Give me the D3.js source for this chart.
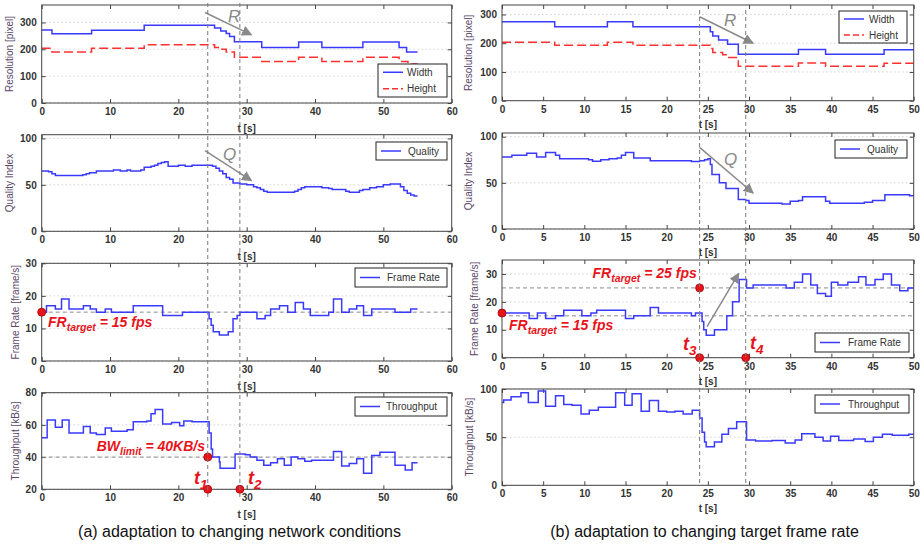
<!DOCTYPE html>
<html><head><meta charset="utf-8">
<script src="https://cdn.jsdelivr.net/npm/d3@7"></script>
<style>
body{margin:0;background:#fff}
svg{display:block}
text{font-family:"Liberation Sans",Arial,Helvetica,sans-serif}
</style>
</head><body>
<svg id="c" width="924" height="545"></svg>
<script>
// ---------------- data ----------------
const leftXTicks = [0,10,20,30,40,50,60];
const rightXTicks = [0,5,10,15,20,25,30,35,40,45,50];
const resTicks = [0,100,200,300];
const qualTicks = [0,50,100];
const frTicks = [0,10,20,30];
const tpLeftTicks = [20,40,60,80];
const tpRightTicks = [0,50,100];

const leftEvents = [24.3, 29.0];   // t1, t2
const rightEvents = [24.0, 29.6];  // t3, t4

const aWidth = [[0,272],[1.5,258],[7.3,271],[15,290],[25.3,279],[26.2,268],[27,259],[27.5,248],[28.2,228],[32.2,207],[37.6,227],[41,207],[47,227],[52.3,207],[53.4,190],[55,190]];
const aHeight = [[0,204],[1.5,190],[7.3,204],[15,217],[25.3,207],[26.2,200],[27,190],[28.2,170],[32.2,155],[37.6,170],[41,155],[47,170],[52.3,155],[53.6,145],[55,145]];
const aQuality = [[0,65],[1,64],[1.5,62],[2,60],[6,61],[6.5,62],[7,63],[8,65],[10.5,66],[11.5,65],[12.5,66],[13,65],[14.5,66],[15,69],[16,70],[16.5,71],[17,73],[17.5,74],[18,75],[18.5,70],[19.5,70],[20,71],[21,70],[22,71],[24.5,71],[25,70],[25.5,68],[26,65],[26.5,62],[27,58],[27.5,56],[28,52],[29,51],[30,50],[31,48],[31.5,47],[32,45],[32.5,43],[33,42],[36,42],[37,43],[37.5,45],[38,47],[38.5,48],[40,48],[41,47],[42,46],[42.5,45],[44,45],[44.5,43],[45,42],[46,42],[46.5,44],[47,45],[48,47],[49,48],[50,50],[51,51],[52,51],[52.5,48],[53,44],[53.5,41],[54,39],[54.5,38],[55,38]];
const aFrameRate = [[0,15],[0.7,17],[2,16],[2.9,19],[4,16],[6.1,17],[7.1,16],[8,15],[9.3,16],[10.2,15],[13.4,17],[17.7,14],[20.6,15],[24.5,13],[24.8,11],[25.1,9],[26,8],[27.3,9],[28,13],[28.6,14],[29,15],[31.5,13],[32.7,14],[33.5,16],[34.8,17],[36,15],[37.1,18],[38.3,16],[39.3,14],[42,15],[42.7,19],[43.9,15],[45,16],[46.1,17],[47.1,14],[48.3,16],[51.7,15],[54,16],[55,16]];
const aThroughput = [[0,52],[0.8,63],[2,58.5],[3,63],[4,55],[6.1,59],[7.1,55],[8,54],[9.3,58],[10.2,56],[12.5,57],[13.4,62],[15.4,62.5],[16,67],[16.6,69.5],[17.7,60.5],[19,61.5],[20.2,59.5],[20.8,62.5],[22,62],[24.5,55],[24.8,45],[25,40],[26,37],[26.1,33],[28.3,42],[29.8,41.5],[30.5,40],[31.5,38],[32.5,35],[33.5,36.5],[34.5,39],[35.5,35],[36.5,40],[37.5,39],[38.5,37.5],[39.5,38],[42.7,43.5],[43.9,34.5],[45,36],[46.1,39],[47.1,30],[48.3,41],[49.5,43],[51.7,35],[52.7,35],[53.2,32],[54.2,36.5],[55,36.5]];

const bWidth = [[0,275],[6.4,257],[12.8,275],[15.9,257],[25.3,240],[25.6,225],[26.3,211],[27.4,196],[28.7,162],[36,178],[39.3,162],[46.4,177],[50,177]];
const bHeight = [[0,203],[6.4,193],[12.8,203],[15.9,193],[25.3,182],[25.6,168],[26.8,160],[27.4,150],[28.7,120],[36,131],[39.3,120],[46.4,130],[50,130]];
const bQuality = [[0,78],[1.2,80],[3,82],[4.2,78],[5.3,83],[6.5,80],[7,76],[10.5,75],[11,73.5],[12,75],[13,76],[14,77],[14.5,80],[15,83],[16,77],[18,74],[23,73],[24,74],[24.6,75],[25,76],[25.3,70],[25.5,59],[26.4,50],[27.2,44],[28.7,32],[29.6,31],[30,28],[34,27],[35,30],[36,31],[36.5,35],[39.3,30],[39.8,28],[44,29],[45,31],[46.5,37],[49.5,36],[50,36]];
const bFrameRate = [[0,16],[3.3,14],[4.3,16],[5.3,14],[6.5,15],[7.5,17],[9.7,15],[10.8,16],[11.5,17],[15,14],[16,15],[18,18],[19,16],[23,15],[23.5,16],[24.3,13],[24.5,10],[24.8,8],[25.8,10],[27.3,15],[28,20],[28.8,28],[29.7,25],[30.5,26],[34.5,25],[35.5,27],[36.5,30],[37.5,26],[38.3,23],[39.3,22],[40,27],[40.8,26],[42,27],[43.3,29],[44.2,26],[45.3,28],[46.3,30],[47.3,26],[48.3,24],[49.3,25],[50,25]];
const bThroughput = [[0,86],[0.2,88.5],[1.1,92],[2.3,96],[3.2,86],[4.4,98],[5.3,82],[6.5,93],[7.5,84],[8.5,83],[9.6,74],[10.6,78],[11.7,81],[13.8,96],[14.9,83],[15.8,95],[16.9,77],[17.9,88],[19,77],[20,76],[21,77],[22,74],[23.1,78],[24,70],[24.3,55],[24.6,45],[24.8,40],[25.8,45],[26.7,53],[27.5,59],[28.5,66],[29.7,47],[30.8,46],[32.8,46.5],[34.4,44],[35.6,47],[36.4,53.5],[38,50],[39,46],[39.9,51],[40.9,46.5],[42.7,48],[44.1,45.5],[45.1,50],[46.2,53],[47.4,52],[49.4,53],[50,53]];

// reference levels
const aFrTarget = 15, aBwLimit = 40;
const bFrTargets = [15, 25];

// ---------------- drawing ----------------
const BLUE = "#3a3aff", RED = "#ff3030", GRAY = "#888", DOTRED = "#e8141c";
const svg = d3.select("#c");
const defs = svg.append("defs");
defs.append("marker").attr("id","ah").attr("viewBox","0 0 10 10").attr("refX",9).attr("refY",5)
  .attr("markerWidth",7).attr("markerHeight",7).attr("orient","auto")
  .append("path").attr("d","M0,0 L10,5 L0,10 z").attr("fill","#8a8a8a");

const L = {x0:41.7, x1:451.7, xd:[0,60], xt:leftXTicks, tlab:25};
const R = {x0:502, x1:913.7, xd:[0,50], xt:rightXTicks, tlab:23.5};

function panel(col, o){
  const x = d3.scaleLinear().domain(col.xd).range([col.x0, col.x1]);
  const y = d3.scaleLinear().domain(o.yd).range([o.y1, o.y0]);
  const g = svg.append("g");
  // grid
  g.selectAll("line.grid").data(o.yt).join("line")
    .attr("x1",col.x0).attr("x2",col.x1).attr("y1",d=>y(d)).attr("y2",d=>y(d))
    .attr("stroke","#c8c8c8").attr("stroke-width",0.8).attr("stroke-dasharray","1.5,2.5");
  // axes
  const fmt = d3.format("d");
  const ax = g.append("g").attr("transform",`translate(0,${o.y1})`)
    .call(d3.axisBottom(x).tickValues(col.xt).tickFormat(fmt).tickSize(-4).tickPadding(5));
  const axT = g.append("g").attr("transform",`translate(0,${o.y0})`)
    .call(d3.axisTop(x).tickValues(col.xt).tickFormat("").tickSize(-4));
  const ay = g.append("g").attr("transform",`translate(${col.x0},0)`)
    .call(d3.axisLeft(y).tickValues(o.yt).tickFormat(fmt).tickSize(-4).tickPadding(5));
  const ayR = g.append("g").attr("transform",`translate(${col.x1},0)`)
    .call(d3.axisRight(y).tickValues(o.yt).tickFormat("").tickSize(-4));
  [ax,axT,ay,ayR].forEach(a=>{
    a.select(".domain").remove();
    a.selectAll(".tick line").attr("stroke","#444");
    a.selectAll(".tick text").attr("fill","#333").style("font-size","10px").style("font-weight","bold");
  });
  // axis titles
  g.append("text").attr("x",(col.x0+col.x1)/2).attr("y",o.y1+col.tlab).attr("dy","0.35em")
    .attr("text-anchor","middle").attr("fill","#333").style("font-size","10px").style("font-weight","bold").text("t [s]");
  g.append("text").attr("transform",`translate(${o.lx},${(o.y0+o.y1)/2}) rotate(-90)`)
    .attr("text-anchor","middle").attr("dy","0.35em").attr("fill","#5a4668").style("font-size","10px").text(o.ylabel);
  // reference lines
  (o.refs||[]).forEach(v=>{
    g.append("line").attr("x1",col.x0).attr("x2",col.x1).attr("y1",y(v)).attr("y2",y(v))
      .attr("stroke","#8c8c8c").attr("stroke-width",1).attr("stroke-dasharray","4,3");
  });
  // series
  const line = d3.line().x(d=>x(d[0])).y(d=>y(d[1])).curve(d3.curveStepAfter);
  o.series.forEach(s=>{
    g.append("path").datum(s.d).attr("d",line).attr("fill","none")
      .attr("stroke",s.c).attr("stroke-width",1.5).attr("stroke-dasharray",s.dash||null);
  });
  // frame
  g.append("rect").attr("x",col.x0).attr("y",o.y0).attr("width",col.x1-col.x0).attr("height",o.y1-o.y0)
    .attr("fill","none").attr("stroke","#444").attr("stroke-width",1);
  // legend
  const lg = o.legend;
  const lgG = g.append("g");
  lgG.append("rect").attr("x",lg.x).attr("y",lg.y).attr("width",lg.w).attr("height",lg.h)
    .attr("fill","#fff").attr("stroke","#222").attr("stroke-width",1);
  const n = o.series.length, step = lg.h/n;
  o.series.forEach((s,i)=>{
    const cy = lg.y + step*(i+0.5);
    lgG.append("line").attr("x1",lg.x+5).attr("x2",lg.x+25).attr("y1",cy).attr("y2",cy)
      .attr("stroke",s.c).attr("stroke-width",1.5).attr("stroke-dasharray",s.dash?"6,3":null);
    lgG.append("text").attr("x",lg.x+lg.tx).attr("y",cy).attr("dy","0.35em").attr("fill","#333")
      .style("font-size","10px").text(s.name);
  });
  return {x,y,g};
}

function arrow(p, a, b, lab, lx, ly){
  p.g.append("line").attr("x1",p.x(a[0])).attr("y1",p.y(a[1])).attr("x2",p.x(b[0])).attr("y2",p.y(b[1]))
    .attr("stroke","#8a8a8a").attr("stroke-width",1.5).attr("marker-end","url(#ah)");
  if(lab) p.g.append("text").attr("x",lx).attr("y",ly).attr("fill","#8a8a8a")
    .style("font-size","17px").style("font-style","italic").text(lab);
}
function dot(p, t, v){
  p.g.append("circle").attr("cx",p.x(t)).attr("cy",p.y(v)).attr("r",4)
    .attr("fill",DOTRED).attr("stroke","#a00").attr("stroke-width",0.8);
}
function redText(px, py, main, sub, rest, size, anchor){
  const t = svg.append("text").attr("x",px).attr("y",py).attr("fill",DOTRED)
    .attr("text-anchor",anchor||"start")
    .style("font-size",size+"px").style("font-weight","bold").style("font-style","italic");
  t.append("tspan").text(main);
  t.append("tspan").attr("dy",size*0.3).style("font-size",(size*0.75)+"px").text(sub);
  if(rest) t.append("tspan").attr("dy",-size*0.3).text(rest);
}

// ---- left column (a) ----
const a1 = panel(L,{y0:5,y1:103,yd:[0,365],yt:resTicks,lx:9,ylabel:"Resolution [pixel]",
  series:[{d:aWidth,c:BLUE,name:"Width"},{d:aHeight,c:RED,dash:"9,4",name:"Height"}],
  legend:{x:378,y:64,w:69,h:33,tx:29}});
const a2 = panel(L,{y0:134.7,y1:231.3,yd:[0,104],yt:qualTicks,lx:9,ylabel:"Quality Index",
  series:[{d:aQuality,c:BLUE,name:"Quality"}],legend:{x:376,y:142,w:71,h:18,tx:32}});
const a3 = panel(L,{y0:263.3,y1:361,yd:[0,30],yt:frTicks,lx:15,ylabel:"Frame Rate [frame/s]",refs:[aFrTarget],
  series:[{d:aFrameRate,c:BLUE,name:"Frame Rate"}],legend:{x:355,y:268,w:92,h:19,tx:32}});
const a4 = panel(L,{y0:392.7,y1:489.3,yd:[20,80],yt:tpLeftTicks,lx:15,ylabel:"Throughput [kB/s]",refs:[aBwLimit],
  series:[{d:aThroughput,c:BLUE,name:"Throughput"}],legend:{x:355,y:397,w:92,h:19,tx:31}});

// ---- right column (b) ----
const b1 = panel(R,{y0:5,y1:100.7,yd:[0,333],yt:resTicks,lx:468,ylabel:"Resolution [pixel]",
  series:[{d:bWidth,c:BLUE,name:"Width"},{d:bHeight,c:RED,dash:"9,4",name:"Height"}],
  legend:{x:839,y:11,w:68,h:32,tx:30}});
const b2 = panel(R,{y0:133,y1:229,yd:[0,104],yt:qualTicks,lx:468,ylabel:"Quality Index",
  series:[{d:bQuality,c:BLUE,name:"Quality"}],legend:{x:835,y:140,w:72,h:18,tx:32}});
const b3 = panel(R,{y0:260,y1:357.7,yd:[0,35],yt:frTicks,lx:474.5,ylabel:"Frame Rate [frame/s]",refs:bFrTargets,
  series:[{d:bFrameRate,c:BLUE,name:"Frame Rate"}],legend:{x:815,y:333,w:94,h:19,tx:33}});
const b4 = panel(R,{y0:389,y1:485.3,yd:[0,100],yt:tpRightTicks,lx:469,ylabel:"Throughput [kB/s]",
  series:[{d:bThroughput,c:BLUE,name:"Throughput"}],legend:{x:815,y:395,w:94,h:18,tx:33}});

// event lines (vertical dashed)
leftEvents.forEach(t=>{
  svg.append("line").attr("x1",a1.x(t)).attr("x2",a1.x(t)).attr("y1",3).attr("y2",497)
    .attr("stroke","#7a7a7a").attr("stroke-width",1).attr("stroke-dasharray","4,3");
});
rightEvents.forEach(t=>{
  svg.append("line").attr("x1",b1.x(t)).attr("x2",b1.x(t)).attr("y1",10).attr("y2",485.3)
    .attr("stroke","#7a7a7a").attr("stroke-width",1).attr("stroke-dasharray","4,3");
});

// arrows
arrow(a1,[23.9,337],[30.7,254],"R",228,22);
arrow(a2,[23.9,86.8],[30.7,54.5],"Q",223,160);
arrow(b1,[24.0,292],[30.5,200],"R",724,26);
arrow(b2,[24.0,88.5],[30.5,39],"Q",724,165);
arrow(b3,[24.9,11.1],[28.75,30.2],null);

// red markers and labels
dot(a3,0,aFrTarget);
redText(48,326.5,"FR","target"," = 15 fps",14);
dot(a4,leftEvents[0],aBwLimit);
redText(205,451,"BW","limit"," = 40KB/s",14,"end");
dot(a4,leftEvents[0],20); dot(a4,leftEvents[1],20);
redText(194,484,"t","1",null,18);
redText(248,484,"t","2",null,18);

dot(b3,0,16);
redText(509,330,"FR","target"," = 15 fps",14);
dot(b3,rightEvents[0],bFrTargets[1]);
redText(592.5,278,"FR","target"," = 25 fps",14);
dot(b3,rightEvents[0],0); dot(b3,rightEvents[1],0);
redText(683,350,"t","3",null,18);
redText(750,349,"t","4",null,18);

// captions
svg.append("text").attr("x",239.5).attr("y",537).attr("text-anchor","middle").attr("fill","#111")
  .style("font-size","16px").text("(a) adaptation to changing network conditions");
svg.append("text").attr("x",704.5).attr("y",537).attr("text-anchor","middle").attr("fill","#111")
  .style("font-size","16px").text("(b) adaptation to changing target frame rate");
</script>
</body></html>
